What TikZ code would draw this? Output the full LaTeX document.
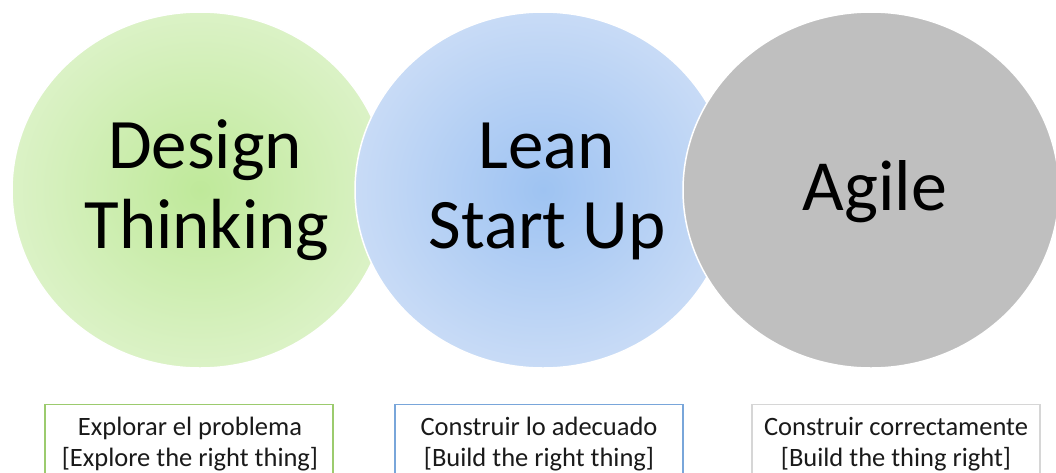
\documentclass[tikz,border=0pt]{standalone}
\usepackage{fontspec}
\setmainfont{Carlito}
\usetikzlibrary{shapes.geometric}
\definecolor{gin}{HTML}{BFE99A}
\definecolor{gout}{HTML}{DBF2C6}
\definecolor{bin}{HTML}{9EC3F2}
\definecolor{bout}{HTML}{C8DBF6}
\definecolor{grayfill}{HTML}{BFBFBF}
\definecolor{gline}{HTML}{9CCB6E}
\definecolor{bline}{HTML}{79A6DA}
\definecolor{kline}{HTML}{D6D6D6}
\definecolor{txt}{HTML}{1A1A1A}
\pgfdeclareradialshading{greenglow}{\pgfpointorigin}{color(0bp)=(gin); color(25bp)=(gout); color(50bp)=(gout)}
\pgfdeclareradialshading{blueglow}{\pgfpointorigin}{color(0bp)=(bin); color(25bp)=(bout); color(50bp)=(bout)}
\begin{document}
\begin{tikzpicture}[x=1pt,y=-1pt,
  blob/.style={ellipse, minimum width=376pt, minimum height=356pt, inner sep=0pt, draw=white, line width=1.5pt},
  bigtext/.style={anchor=base, inner sep=0pt, font=\fontsize{71}{80}\selectfont, text=black},
  labelbox/.style={draw, line width=1.2pt, minimum width=288pt, minimum height=90pt, anchor=north, inner sep=0pt},
  labeltext/.style={anchor=base, inner sep=0pt, font=\fontsize{26.5}{31}\selectfont, text=txt}]
\clip (0,0) rectangle (1056,472);
\fill[white] (0,0) rectangle (1056,472);
% circles
\node[blob, shading=greenglow] (dt) at (200,190) {};
\node[blob, shading=blueglow] (ls) at (543,190) {};
\node[blob, fill=grayfill] (ag) at (871,190) {};
% circle titles
\node[bigtext] (dt1) at (205,168) {Design};
\node[bigtext] (dt2) at (207,248) {Thinking};
\node[bigtext] (ls1) at (547,168) {Lean};
\node[bigtext] (ls2) at (547,248) {Start Up};
\node[bigtext, font=\fontsize{72}{80}\selectfont] (ag1) at (875,210) {Agile};
% label boxes
\node[labelbox, draw=gline] (b1) at (189,404) {};
\node[labelbox, draw=bline] (b2) at (539,404) {};
\node[labelbox, draw=kline] (b3) at (896,404) {};
\node[labeltext] (b1a) at (190,435) {Explorar el problema};
\node[labeltext] (b1b) at (190,466) {[Explore the right thing]};
\node[labeltext] (b2a) at (539,435) {Construir lo adecuado};
\node[labeltext] (b2b) at (539,466) {[Build the right thing]};
\node[labeltext] (b3a) at (896,435) {Construir correctamente};
\node[labeltext] (b3b) at (896,466) {[Build the thing right]};
\end{tikzpicture}
\end{document}
